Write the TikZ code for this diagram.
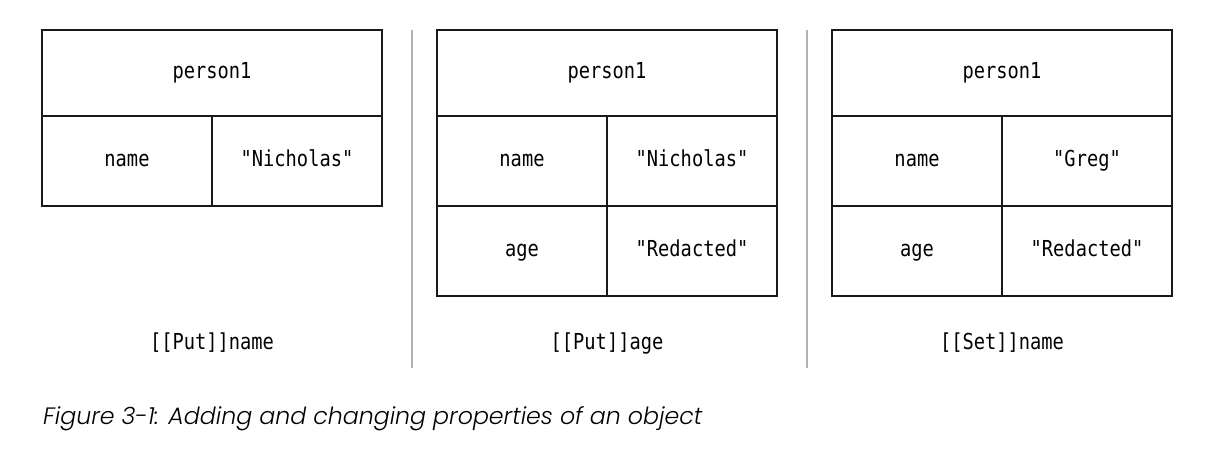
\documentclass[tikz,border=0pt]{standalone}
\usepackage{fontspec}
\usepackage{tikz}
\usetikzlibrary{positioning}
\newfontfamily\codefont{DejaVu Sans Mono}[FakeStretch=0.85]
\newfontfamily\capfont{Poppins}[UprightFont=*-Light, ItalicFont=*-Light Italic]

\begin{document}
\begin{tikzpicture}[x=1pt,y=-1pt,node distance=0pt,
    cell/.style={draw=black!90, line width=2.4pt, outer sep=0pt, minimum width=170pt, minimum height=90pt, inner sep=0pt, text height=15pt, text depth=4pt, font=\codefont\fontsize{22}{24}\selectfont},
    head/.style={cell, minimum width=340pt, minimum height=86pt},
    oplabel/.style={font=\codefont\fontsize{22}{24}\selectfont},
    sep/.style={draw=black!30, line width=1.2pt}]
                        \useasboundingbox (0,0) rectangle (1226,464);
                        % first object
                        \node[head]                   (h_a)  at (212,73)                     {person1};
                        \node[cell, below right=of h_a.south west] (k_a1) {name};
                        \node[cell]                   (v_a1) [right=of k_a1]                 {"Nicholas"};
                        % second object
                        \node[head]                   (h_b)  [right=55pt of h_a]             {person1};
                        \node[cell, below right=of h_b.south west] (k_b1) {name};
                        \node[cell]                   (v_b1) [right=of k_b1]                 {"Nicholas"};
                        \node[cell]                   (k_b2) [below=of k_b1]                 {age};
                        \node[cell]                   (v_b2) [right=of k_b2]                 {"Redacted"};
                        % third object
                        \node[head]                   (h_c)  [right=55pt of h_b]             {person1};
                        \node[cell, below right=of h_c.south west] (k_c1) {name};
                        \node[cell]                   (v_c1) [right=of k_c1]                 {"Greg"};
                        \node[cell]                   (k_c2) [below=of k_c1]                 {age};
                        \node[cell]                   (v_c2) [right=of k_c2]                 {"Redacted"};
                        % operations
                        \node[oplabel]                (op_a) at (212,343)                    {[[Put]]name};
                        \node[oplabel]                (op_b) at (607,343)                    {[[Put]]age};
                        \node[oplabel]                (op_c) at (1002,343)                   {[[Set]]name};
                        % separators
                        \coordinate (s_a1) at (412,30);  \coordinate (s_a2) at (412,368);
                        \coordinate (s_b1) at (807,30);  \coordinate (s_b2) at (807,368);
                        \draw[sep] (s_a1) -- (s_a2);
                        \draw[sep] (s_b1) -- (s_b2);
                        % caption
                        \node[anchor=base west, inner sep=0pt, font=\capfont\itshape\fontsize{23.7}{26}\selectfont] (cap) at (43,424)
                            {Figure 3-1: Adding and changing properties of an object};
\end{tikzpicture}
\end{document}
